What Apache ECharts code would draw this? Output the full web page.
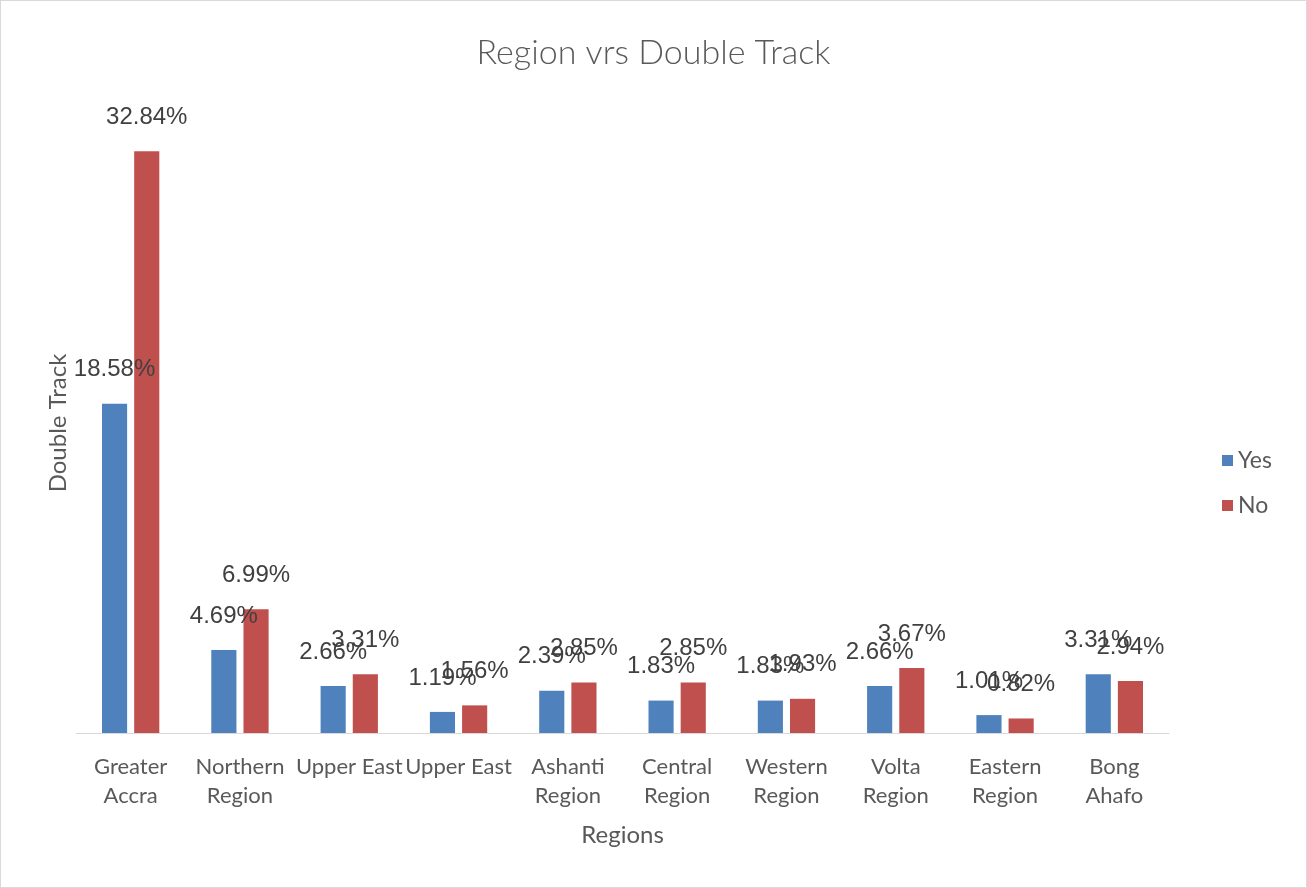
<!DOCTYPE html>
<html>
<head>
<meta charset="utf-8">
<script src="https://cdn.jsdelivr.net/npm/echarts@6/dist/echarts.min.js"></script>
<style>
html,body{margin:0;padding:0;background:#fff;}
#c{position:absolute;left:0;top:0;width:1305px;height:886px;border:1px solid #d9d9d9;}
</style>
</head>
<body>
<div id="c"></div>
<script>
const categories = ["Greater\nAccra","Northern\nRegion","Upper East","Upper East","Ashanti\nRegion","Central\nRegion","Western\nRegion","Volta\nRegion","Eastern\nRegion","Bong\nAhafo"];
const yesValues = [18.58, 4.69, 2.66, 1.19, 2.39, 1.83, 1.83, 2.66, 1.01, 3.31];
const noValues = [32.84, 6.99, 3.31, 1.56, 2.85, 2.85, 1.93, 3.67, 0.82, 2.94];
const seriesNames = ["Yes", "No"];

const chart = echarts.init(document.getElementById('c'));
const labelStyle = {
  show: true, position: 'top', distance: 22,
  fontFamily: 'Liberation Sans, Arial, sans-serif', fontSize: 24, color: '#404040',
  formatter: p => p.value.toFixed(2) + '%'
};
chart.setOption({
  animation: false,
  title: {
    text: 'Region vrs Double Track', left: 'center', top: 30,
    textStyle: {fontFamily: 'Lato, sans-serif', fontWeight: 300, fontSize: 34, color: '#595959'}
  },
  legend: {
    orient: 'vertical', left: 1216, top: 443, itemGap: 22,
    itemWidth: 11, itemHeight: 11, icon: 'rect',
    textStyle: {fontFamily: 'Lato, sans-serif', fontSize: 23, color: '#595959'}
  },
  grid: {left: 75, right: 137, top: 112, bottom: 154},
  xAxis: {
    type: 'category', data: categories,
    axisLine: {lineStyle: {color: '#d9d9d9', width: 1}},
    axisTick: {show: false},
    axisLabel: {interval: 0, margin: 19, lineHeight: 29, fontFamily: 'Lato, sans-serif', fontSize: 22, color: '#595959'},
    name: 'Regions', nameLocation: 'middle', nameGap: 90,
    nameTextStyle: {fontFamily: 'Lato, sans-serif', fontSize: 24, color: '#595959'}
  },
  yAxis: {
    type: 'value', min: 0, max: 35, interval: 5,
    axisLine: {show: false}, axisTick: {show: false}, axisLabel: {show: false}, splitLine: {show: false},
    name: 'Double Track', nameLocation: 'middle', nameGap: 6, nameRotate: 90,
    nameTextStyle: {fontFamily: 'Lato, sans-serif', fontSize: 24, color: '#595959'}
  },
  series: [
    {name: seriesNames[0], type: 'bar', data: yesValues, barWidth: '23%', barGap: '28%',
     itemStyle: {color: '#4F81BD'}, label: labelStyle},
    {name: seriesNames[1], type: 'bar', data: noValues, barWidth: '23%', barGap: '28%',
     itemStyle: {color: '#C0504D'}, label: labelStyle}
  ]
});
</script>
</body>
</html>
